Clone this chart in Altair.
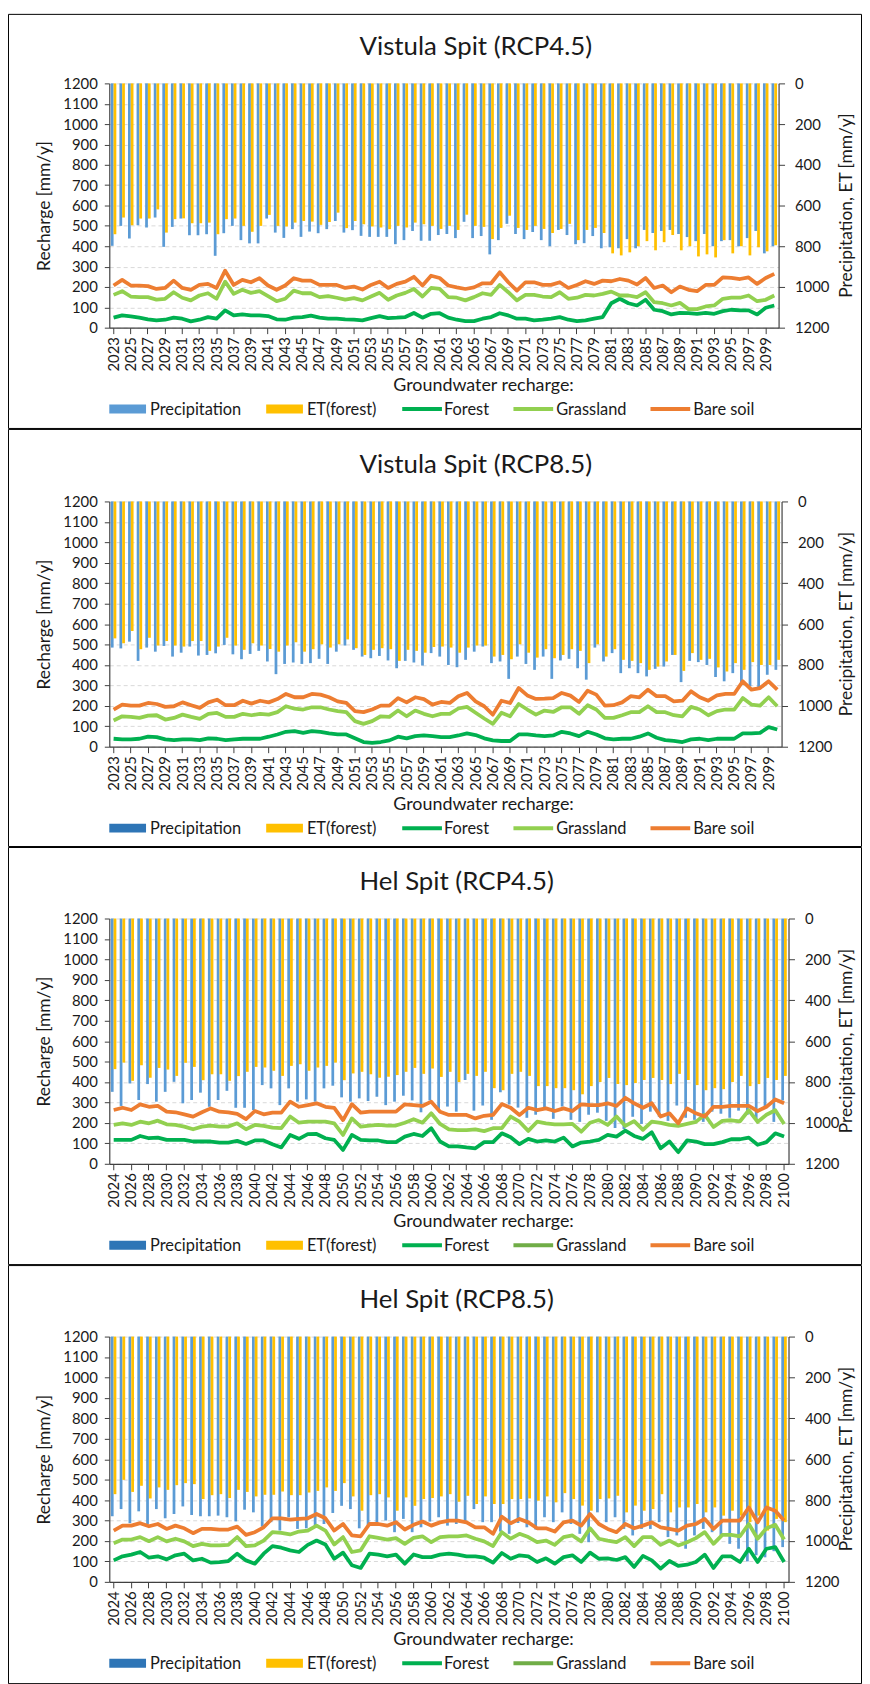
import altair as alt
import pandas as pd

# ---------------- Vistula Spit (RCP4.5) ----------------
years_v = list(range(2023, 2101))
v45_precip = [798, 700, 762, 697, 708, 659, 803, 705, 664, 746, 746, 741, 847, 736, 700, 770, 786, 786, 664, 733,
              759, 716, 754, 728, 736, 716, 676, 733, 721, 749, 754, 754, 754, 790, 770, 725, 773,
              773, 745, 740, 760, 680, 760, 750, 840, 770, 690, 740, 765, 730, 770, 800, 720, 745, 790, 785, 750,
              810, 805, 810, 765, 810, 720, 735, 725, 720, 740, 755, 775, 740, 800, 775, 770, 800, 760, 725, 835, 800]
v45_et = [741, 659, 697, 664, 664, 619, 733, 667, 663, 687, 687, 684, 741, 667, 664, 700, 729, 700, 646, 700,
          703, 684, 676, 679, 695, 681, 635, 711, 676, 692, 703, 708, 716, 700, 708, 684, 692,
          700, 715, 700, 720, 645, 700, 705, 765, 710, 650, 710, 720, 700, 715, 735, 715, 690, 770, 720, 710,
          735, 835, 845, 830, 800, 775, 820, 780, 745, 820, 800, 850, 840, 855, 770, 835, 800, 845, 805, 825, 795]
v45_forest = [49, 60, 55, 49, 41, 36, 39, 49, 44, 31, 39, 52, 44, 85, 60, 65, 60, 60, 57, 41, 39, 49, 52, 59, 49,
              44, 44, 41, 39, 36, 47, 57, 47, 49, 52, 72, 49,
              68, 71, 49, 39, 32, 32, 44, 52, 71, 60, 44, 44, 36, 39, 44, 52, 39, 32, 36, 44, 52, 120, 142, 120,
              109, 137, 88, 81, 65, 73, 71, 68, 73, 68, 81, 88, 85, 85, 65, 98, 109]
v45_grass = [161, 179, 153, 150, 150, 138, 142, 174, 147, 134, 158, 169, 142, 226, 166, 186, 171, 179, 155, 130,
             142, 182, 169, 169, 150, 155, 147, 138, 145, 134, 153, 171, 137, 158, 171, 190, 153,
             195, 190, 150, 147, 134, 150, 169, 161, 210, 174, 134, 161, 161, 153, 150, 174, 142, 147, 161, 158,
             166, 177, 158, 158, 150, 174, 125, 120, 109, 122, 91, 91, 104, 109, 142, 147, 147, 158, 130, 137, 158]
v45_bare = [207, 235, 207, 207, 204, 190, 195, 231, 195, 186, 210, 215, 195, 280, 210, 235, 223, 243, 207, 186,
            207, 243, 231, 231, 210, 210, 210, 195, 202, 187, 210, 226, 195, 215, 226, 250, 207,
            255, 244, 207, 198, 190, 198, 218, 218, 272, 223, 182, 223, 223, 210, 210, 223, 195, 210, 228, 215,
            231, 228, 239, 231, 212, 244, 195, 207, 174, 202, 186, 179, 210, 210, 247, 244, 239, 247, 215, 244, 264]

# ---------------- Vistula Spit (RCP8.5) ----------------
v85_precip = [715, 719, 686, 780, 715, 735, 707, 759, 740, 710, 754, 751, 743, 702, 748, 772, 746, 731, 783, 845,
              795, 788, 795, 791, 770, 795, 735, 705, 726, 759, 767, 756, 778, 816, 780, 788, 803,
              742, 759, 800, 811, 775, 735, 710, 791, 783, 868, 759, 795, 824, 759, 868, 778, 770, 816, 872, 715,
              783, 742, 840, 816, 840, 856, 819, 808, 751, 884, 780, 786, 800, 859, 880, 840, 897, 905, 920, 848, 824]
v85_et = [670, 694, 634, 723, 667, 705, 683, 705, 710, 683, 683, 731, 710, 667, 705, 726, 694, 705, 722, 735,
          705, 689, 735, 723, 699, 715, 699, 675, 718, 751, 726, 718, 723, 780, 726, 731, 740,
          712, 710, 715, 740, 715, 705, 705, 759, 751, 772, 699, 740, 764, 723, 767, 751, 723, 731, 791, 699,
          759, 723, 775, 780, 791, 824, 808, 783, 751, 829, 742, 775, 770, 812, 832, 791, 824, 786, 800, 800, 775]
v85_forest = [39, 36, 36, 39, 49, 47, 36, 32, 36, 36, 32, 41, 39, 32, 36, 39, 39, 39, 49, 60, 73, 76, 68, 76, 73,
              65, 60, 60, 41, 23, 19, 23, 31, 49, 41, 52, 55,
              52, 47, 47, 55, 65, 57, 41, 31, 28, 28, 60, 60, 55, 52, 55, 73, 65, 52, 73, 60, 41, 36, 39, 39,
              49, 65, 44, 32, 28, 23, 36, 39, 32, 39, 39, 39, 65, 65, 68, 96, 84]
v85_grass = [128, 149, 146, 141, 152, 154, 133, 141, 157, 146, 136, 161, 165, 146, 146, 161, 154, 161, 157, 169,
             198, 186, 182, 193, 193, 182, 174, 169, 125, 112, 125, 149, 146, 177, 149, 177, 161,
             149, 161, 161, 187, 195, 166, 138, 112, 166, 149, 209, 182, 157, 177, 170, 193, 193, 161, 203, 182,
             141, 141, 154, 169, 169, 198, 169, 169, 154, 149, 195, 182, 154, 174, 182, 182, 238, 206, 201, 242, 198]
v85_bare = [182, 206, 201, 201, 214, 209, 195, 198, 217, 203, 190, 217, 230, 203, 203, 225, 211, 225, 217, 233,
            258, 242, 242, 258, 255, 242, 222, 214, 174, 169, 182, 201, 201, 238, 217, 242, 233,
            206, 219, 214, 247, 263, 222, 198, 157, 225, 214, 287, 251, 234, 235, 238, 263, 250, 219, 274, 255,
            201, 203, 217, 247, 242, 279, 247, 247, 222, 225, 271, 242, 225, 251, 258, 258, 320, 279, 287, 320, 279]

# ---------------- Hel Spit (RCP4.5) ----------------
years_h = list(range(2024, 2101))
h45_precip = [848, 917, 807, 888, 810, 896, 848, 799, 904, 888, 852, 921, 888, 843, 926, 926, 937, 815, 831, 913,
              831, 896, 885, 896, 831, 818, 875, 896, 880, 893, 872, 913, 896, 867, 890, 948, 890,
              935, 920, 945, 790, 940, 915, 985, 850, 910, 925, 975, 960, 935, 980, 920, 985, 995, 960, 950, 990,
              1025, 1030, 970, 1005, 945, 970, 990, 915, 975, 985, 995, 945, 955, 975, 940, 960, 985, 925, 995, 890]
h45_et = [737, 705, 794, 718, 779, 731, 739, 770, 706, 726, 791, 762, 762, 794, 771, 750, 726, 729, 745, 770,
          721, 713, 745, 729, 721, 705, 791, 758, 750, 762, 779, 774, 766, 750, 731, 760, 734,
          775, 750, 800, 760, 770, 750, 830, 840, 760, 750, 770, 820, 820, 830, 830, 840, 860, 820, 800, 780,
          810, 815, 805, 790, 780, 790, 810, 760, 790, 815, 840, 830, 835, 800, 770, 820, 810, 780, 790, 770]
h45_forest = [117, 117, 117, 136, 125, 128, 117, 117, 117, 109, 109, 109, 104, 104, 112, 97, 114, 114, 96, 80,
              141, 122, 145, 146, 125, 117, 68, 141, 117, 114, 114, 106, 106, 133, 146, 136,
              174, 109, 85, 85, 80, 76, 106, 106, 149, 130, 96, 122, 109, 114, 109, 128, 85, 104, 109, 117,
              141, 133, 162, 136, 122, 154, 76, 109, 57, 114, 109, 96, 96, 106, 120, 120, 128, 93, 106, 149, 133]
h45_grass = [190, 198, 190, 206, 198, 211, 193, 190, 182, 169, 182, 187, 182, 182, 198, 169, 190, 185, 177, 174,
             231, 201, 206, 206, 206, 198, 141, 222, 182, 187, 190, 187, 187, 201, 218, 201,
             247, 195, 168, 165, 165, 168, 160, 174, 174, 231, 206, 161, 206, 198, 193, 193, 195, 157, 201, 214,
             190, 231, 185, 209, 166, 206, 200, 190, 185, 195, 205, 240, 180, 210, 213, 208, 262, 205, 240, 262, 195]
h45_bare = [263, 274, 263, 291, 279, 283, 255, 252, 242, 231, 252, 271, 255, 252, 244, 219, 258, 242, 250, 250,
            304, 279, 287, 296, 279, 274, 214, 292, 250, 255, 255, 255, 255, 291, 287, 283,
            304, 255, 239, 239, 239, 222, 235, 239, 292, 274, 239, 274, 263, 271, 258, 271, 258, 291, 287, 287,
            296, 283, 323, 296, 274, 296, 231, 247, 198, 271, 247, 231, 279, 279, 283, 283, 283, 258, 279, 315, 296]

# ---------------- Hel Spit (RCP8.5) ----------------
h85_precip = [879, 844, 913, 855, 917, 844, 889, 868, 831, 873, 879, 879, 876, 884, 904, 847, 860, 930, 908, 949,
              884, 941, 938, 925, 917, 863, 828, 844, 938, 925, 908, 900, 957, 892, 957, 933,
              905, 884, 925, 917, 908, 844, 908, 908, 954, 965, 912, 933, 944, 884, 908, 860, 917, 965, 1006, 860,
              908, 884, 941, 973, 941, 941, 908, 981, 973, 1038, 973, 941, 957, 973, 1014, 1038, 1100, 1070, 1080,
              1050, 1030]
h85_et = [771, 701, 760, 730, 792, 738, 750, 727, 717, 722, 795, 776, 771, 790, 750, 760, 782, 774, 774, 758,
          776, 776, 763, 755, 738, 755, 717, 782, 852, 776, 771, 787, 852, 787, 828, 795,
          790, 782, 771, 808, 779, 819, 782, 819, 819, 795, 795, 792, 803, 782, 811, 766, 795, 827, 852, 795,
          792, 779, 860, 827, 852, 844, 771, 860, 836, 836, 819, 860, 836, 876, 852, 876, 908, 876, 949, 892, 908]
h85_forest = [105, 125, 133, 146, 118, 125, 110, 130, 138, 105, 113, 94, 97, 102, 138, 105, 89, 138, 175, 167,
              154, 146, 181, 202, 183, 113, 143, 81, 68, 138, 133, 125, 133, 89, 134, 121,
              121, 133, 138, 133, 125, 125, 118, 94, 141, 113, 130, 125, 97, 115, 89, 121, 130, 97, 143, 113,
              115, 107, 121, 73, 127, 105, 65, 102, 78, 84, 97, 133, 68, 125, 125, 97, 162, 97, 162, 170, 97]
h85_grass = [189, 207, 207, 219, 199, 219, 198, 211, 198, 175, 186, 178, 178, 181, 219, 175, 178, 202, 243, 240,
             232, 246, 251, 275, 251, 183, 219, 146, 154, 223, 215, 207, 214, 186, 215, 223,
             194, 219, 223, 223, 227, 211, 198, 175, 243, 211, 235, 219, 194, 202, 181, 219, 227, 198, 262, 211,
             202, 194, 219, 175, 219, 219, 181, 202, 178, 194, 214, 243, 186, 230, 230, 223, 283, 211, 262, 279, 207]
h85_bare = [251, 275, 275, 287, 272, 283, 259, 275, 262, 238, 259, 259, 256, 256, 270, 230, 243, 267, 311, 311,
            304, 308, 311, 332, 311, 251, 283, 227, 223, 283, 283, 275, 292, 256, 279, 295,
            275, 291, 300, 300, 291, 267, 267, 235, 319, 287, 308, 291, 262, 262, 246, 291, 300, 275, 332, 283,
            259, 243, 283, 262, 275, 291, 267, 259, 251, 275, 283, 308, 259, 300, 300, 300, 364, 291, 364, 348, 300]

labels_v = list(range(2023, 2100, 2))
labels_h = list(range(2024, 2101, 2))

for arr in [v45_precip, v45_et, v45_forest, v45_grass, v45_bare,
            v85_precip, v85_et, v85_forest, v85_grass, v85_bare]:
    assert len(arr) == len(years_v), len(arr)
for arr in [h45_precip, h45_et, h45_forest, h45_grass, h45_bare,
            h85_precip, h85_et, h85_forest, h85_grass, h85_bare]:
    assert len(arr) == len(years_h), len(arr)

SERIES = ["Precipitation", "ET(forest)", "Forest", "Grassland", "Bare soil"]
TXT = "#1a1a1a"
AX = "#404040"
FONT = "Lato"


def one_row():
    return pd.DataFrame({"k": [0]})


def panel(title, years, precip, et, forest, grass, bare, c_prec, c_grass,
          W, H, top, bottom, right, label_years):
    n = len(years)
    colors = [c_prec, "#FFC000", "#00B050", c_grass, "#ED7D31"]
    cscale = alt.Scale(domain=SERIES, range=colors)
    bars = pd.DataFrame({
        "year": years * 2,
        "series": ["Precipitation"] * n + ["ET(forest)"] * n,
        "value": precip + et,
    })
    lines = pd.DataFrame({
        "year": years * 3,
        "series": ["Forest"] * n + ["Grassland"] * n + ["Bare soil"] * n,
        "value": forest + grass + bare,
    })
    xenc = alt.X("year:O",
                 scale=alt.Scale(paddingInner=0.36, paddingOuter=0.18),
                 axis=alt.Axis(values=label_years, labelAngle=-90, title=None,
                               labelOverlap=False, tickSize=6, labelPadding=3,
                               domainColor=AX, tickColor=AX, domainWidth=1.2,
                               labelFontSize=15, labelColor=TXT, labelFont=FONT,
                               grid=False))
    bar_layer = alt.Chart(bars).mark_bar().encode(
        x=xenc,
        xOffset=alt.XOffset("series:N", sort=["Precipitation", "ET(forest)"],
                            scale=alt.Scale(paddingInner=0, paddingOuter=0)),
        y=alt.Y("value:Q",
                scale=alt.Scale(domain=[0, 1200], reverse=True, nice=False),
                axis=alt.Axis(orient="right", values=list(range(0, 1201, 200)), format="d",
                              title=None, grid=False,
                              tickSize=6, labelPadding=10,
                              domainColor=AX, tickColor=AX, domainWidth=1.2,
                              labelFontSize=15, labelColor=TXT, labelFont=FONT)),
        color=alt.Color("series:N", scale=cscale, legend=None),
    )
    line_layer = alt.Chart(lines).mark_line(strokeWidth=3.8, strokeJoin="round").encode(
        x=xenc,
        y=alt.Y("value:Q",
                scale=alt.Scale(domain=[0, 1200], nice=False),
                axis=alt.Axis(orient="left", values=list(range(0, 1201, 100)), format="d",
                              title="Recharge [mm/y]", grid=True, gridDash=[4, 3],
                              gridColor="#D9D9D9", gridWidth=1,
                              tickSize=5, labelPadding=7, titlePadding=9,
                              domainColor=AX, tickColor=AX, domainWidth=1.2,
                              labelFontSize=15, labelColor=TXT, labelFont=FONT,
                              titleFontSize=17.5, titleFontWeight="normal",
                              titleColor=TXT, titleFont=FONT)),
        color=alt.Color("series:N", scale=cscale, legend=None),
        detail="series:N",
    )

    layers = []
    # panel frame
    layers.append(alt.Chart(one_row()).mark_rect(fillOpacity=0, stroke="#000000", strokeWidth=1).encode(
        x=alt.value(-102 + 0.5), x2=alt.value(W + right - 0.5),
        y=alt.value(-top + 0.5), y2=alt.value(H + bottom - 0.5)))
    layers.append(bar_layer)
    layers.append(line_layer)
    # title
    layers.append(alt.Chart(one_row()).mark_text(align="left", baseline="alphabetic", fontSize=26,
                                                 font=FONT, color=TXT).encode(
        x=alt.value(252), y=alt.value(-29), text=alt.value(title)))
    # right axis title
    layers.append(alt.Chart(one_row()).mark_text(align="center", baseline="middle", fontSize=17.5,
                                                 angle=270, font=FONT, color=TXT).encode(
        x=alt.value(743), y=alt.value(H / 2), text=alt.value("Precipitation, ET [mm/y]")))
    # legend
    ly = H + 82
    layers.append(alt.Chart(one_row()).mark_text(align="left", baseline="middle", fontSize=18,
                                                 font=FONT, color=TXT).encode(
        x=alt.value(286), y=alt.value(H + 59), text=alt.value("Groundwater recharge:")))
    rect_items = [(0, 37, 41, "Precipitation", colors[0]), (158, 195, 199, "ET(forest)", colors[1])]
    for x1, x2, tx, lab, col in rect_items:
        layers.append(alt.Chart(one_row()).mark_rect(color=col).encode(
            x=alt.value(x1), x2=alt.value(x2), y=alt.value(ly - 4.5), y2=alt.value(ly + 4.5)))
        layers.append(alt.Chart(one_row()).mark_text(align="left", baseline="middle", fontSize=16.5,
                                                     font=FONT, color=TXT).encode(
            x=alt.value(tx), y=alt.value(ly + 1), text=alt.value(lab)))
    line_items = [(295, 335, 337, "Forest", colors[2]), (407, 447, 450, "Grassland", colors[3]),
                  (545, 585, 588, "Bare soil", colors[4])]
    for x1, x2, tx, lab, col in line_items:
        layers.append(alt.Chart(one_row()).mark_rule(color=col, strokeWidth=4).encode(
            x=alt.value(x1), x2=alt.value(x2), y=alt.value(ly)))
        layers.append(alt.Chart(one_row()).mark_text(align="left", baseline="middle", fontSize=16.5,
                                                     font=FONT, color=TXT).encode(
            x=alt.value(tx), y=alt.value(ly + 1), text=alt.value(lab)))

    return alt.layer(*layers).resolve_scale(y="independent").properties(width=W, height=H)


p1 = panel("Vistula Spit (RCP4.5)", years_v, v45_precip, v45_et, v45_forest, v45_grass, v45_bare,
           "#5B9BD5", "#92D050", 674, 246, 70, 102, 84, labels_v)
p2 = panel("Vistula Spit (RCP8.5)", years_v, v85_precip, v85_et, v85_forest, v85_grass, v85_bare,
           "#2E75B6", "#92D050", 677, 247, 73, 101, 81, labels_v)
p3 = panel("Hel Spit (RCP4.5)", years_h, h45_precip, h45_et, h45_forest, h45_grass, h45_bare,
           "#2E75B6", "#70AD47", 684, 247, 72, 102, 74, labels_h)
p4 = panel("Hel Spit (RCP8.5)", years_h, h85_precip, h85_et, h85_forest, h85_grass, h85_bare,
           "#2E75B6", "#70AD47", 684, 247, 72, 103, 74, labels_h)

chart = alt.vconcat(p1, p2, p3, p4, spacing=0).properties(padding=0).configure(
    font=FONT).configure_view(strokeOpacity=0)

chart.save("out.html", embed_options={"renderer": "svg", "actions": False})
